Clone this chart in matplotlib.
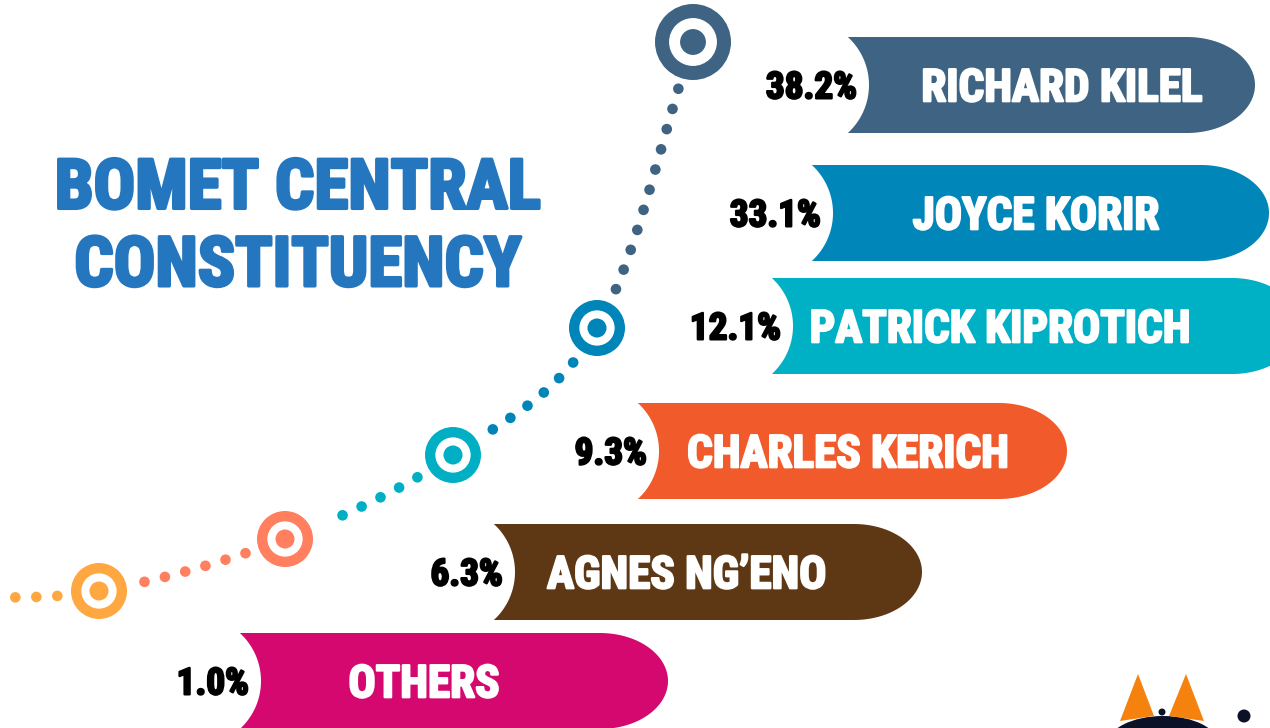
import numpy as np
import matplotlib
matplotlib.use("Agg")
import matplotlib.pyplot as plt
from matplotlib.patches import Polygon, Circle, Ellipse
from matplotlib import font_manager
import matplotlib.patheffects as pe

# ---------------- data ----------------
candidates = ["RICHARD KILEL", "JOYCE KORIR", "PATRICK KIPROTICH",
              "CHARLES KERICH", "AGNES NG\u2019ENO", "OTHERS"]
shares = [38.2, 33.1, 12.1, 9.3, 6.3, 1.0]
title_lines = ["BOMET CENTRAL", "CONSTITUENCY"]

# ---------------- styles / layout ----------------
bar_colors = ["#3E6383", "#0086B8", "#00B0C4", "#F15A2B", "#5E3815", "#D5086F"]
bar_left = [848, 812, 772, 638, 494, 240]      # top-left corner (px)
bar_right = [1255, 1269, 1300, 1067, 922, 668]  # right extreme (px)
bar_mid = [85, 213, 326, 451, 572, 681]         # vertical centre (px)
bar_h = 96
name_x = [1062, 1036, 1000, 848, 687, 424]
name_w = [283, 248, 368, 319, 289, 146]
pct_w = [94, 85, 90, 74, 73, 71]
title_color = "#2476BE"

# decorative path of targets
target_x = [99, 285, 453, 597, 693]
target_y = [591, 539, 455, 328, 42]
target_r = [28, 28, 28, 28, 38]
target_c = ["#FFA842", "#FF7F5E", "#00AFC4", "#0085B9", "#3E6383"]

names = {f.name for f in font_manager.fontManager.ttflist}
family = "DejaVu Sans"
for cand in ["Roboto Condensed", "Liberation Sans Narrow", "Open Sans Condensed", "Roboto", "Lato"]:
    if cand in names:
        family = cand
        break
fam = [family, "DejaVu Sans"]
WEIGHT = "black"

fig = plt.figure(figsize=(12.7, 7.28), dpi=100)
ax = fig.add_axes([0, 0, 1, 1])
ax.set_xlim(0, 1270)
ax.set_ylim(728, 0)
ax.axis("off")
fig.canvas.draw()
rend = fig.canvas.get_renderer()


def text_width(s, size):
    t = ax.text(0, 0, s, fontsize=size, family=fam, fontweight=WEIGHT)
    w = t.get_window_extent(renderer=rend).width
    t.remove()
    return w


def fit_size(strings, widths, ref=40):
    return float(np.median([ref * w / text_width(s, ref) for s, w in zip(strings, widths)]))


def bold_fx(color, lw):
    return [pe.withStroke(linewidth=lw, foreground=color)]


# ---------------- dotted curve ----------------
P = np.array([[-60, 598]] + list(zip(target_x, target_y)), dtype=float)
Pext = np.vstack([2 * P[0] - P[1], P, 2 * P[-1] - P[-2]])


def catmull(p0, p1, p2, p3, n=400):
    t = np.linspace(0, 1, n)[:, None]
    return 0.5 * ((2 * p1) + (-p0 + p2) * t + (2 * p0 - 5 * p1 + 4 * p2 - p3) * t ** 2
                  + (-p0 + 3 * p1 - 3 * p2 + p3) * t ** 3)


radii_ext = [0] + target_r
spacing = 21
for i in range(len(P) - 1):
    seg = catmull(Pext[i], Pext[i + 1], Pext[i + 2], Pext[i + 3])
    d = np.r_[0, np.cumsum(np.hypot(*np.diff(seg, axis=0).T))]
    L = d[-1]
    start = radii_ext[i + 1] + (11 if radii_ext[i + 1] > 30 else 14)
    s_vals = []
    s = start
    lower_gap = (radii_ext[i] + 14) if i > 0 else -50
    while L - s > lower_gap:
        s_vals.append(L - s)
        s += spacing
    col = target_c[i]
    for sv in s_vals:
        x = np.interp(sv, d, seg[:, 0])
        y = np.interp(sv, d, seg[:, 1])
        ax.add_patch(Circle((x, y), 5.3, color=col, lw=0, zorder=2))

for x, y, r, c in zip(target_x, target_y, target_r, target_c):
    ax.add_patch(Circle((x, y), r, color=c, lw=0, zorder=3))
    ax.add_patch(Circle((x, y), r * 0.63, color="white", lw=0, zorder=4))
    ax.add_patch(Circle((x, y), r * 0.34, color=c, lw=0, zorder=5))

# ---------------- bars ----------------
name_size = fit_size(candidates, name_w)
pct_labels = [f"{v:.1f}%" for v in shares]
pct_size = fit_size(pct_labels, pct_w)
cap_ratio = 0.72

rx = 68
R_notch = 65
bulge = 21
for i, (lab, val) in enumerate(zip(candidates, shares)):
    x0, xr, yc = bar_left[i], bar_right[i], bar_mid[i]
    yt, yb = yc - bar_h / 2, yc + bar_h / 2
    ry = bar_h / 2
    th = np.linspace(-np.pi / 2, np.pi / 2, 80)
    right_arc = np.c_[xr - rx + rx * np.cos(th), yc + ry * np.sin(th)]
    cx = x0 + bulge - R_notch
    ang = np.arcsin(ry / R_notch)
    th2 = np.linspace(ang, -ang, 80)
    left_arc = np.c_[cx + R_notch * np.cos(th2), yc + R_notch * np.sin(th2)]
    pts = np.vstack([[x0, yt], right_arc, left_arc])
    ax.add_patch(Polygon(pts, closed=True, color=bar_colors[i], lw=0, zorder=2))

    cap = cap_ratio * name_size * 100 / 72
    ax.text(name_x[i], yc + cap / 2, lab, color="white", fontsize=name_size,
            family=fam, fontweight=WEIGHT, ha="center", va="baseline", zorder=6,
            path_effects=bold_fx("white", 1.6))
    capp = cap_ratio * pct_size * 100 / 72
    ax.text(x0 + 9, yc + capp / 2, pct_labels[i], color="black", fontsize=pct_size,
            family=fam, fontweight=WEIGHT, ha="right", va="baseline", zorder=6,
            path_effects=bold_fx("black", 1.6))

# ---------------- title ----------------
title_size = fit_size(title_lines, [493, 439])
capt = cap_ratio * title_size * 100 / 72
for line, yc in zip(title_lines, [183.5, 261]):
    ax.text(298, yc + capt / 2, line, color=title_color, fontsize=title_size,
            family=fam, fontweight=WEIGHT, ha="center", va="baseline", zorder=6,
            path_effects=bold_fx(title_color, 2.4))

# ---------------- partial logo (bottom right) ----------------
dark = "#0B1126"
ax.add_patch(Ellipse((1163, 745), 112, 58, color=dark, lw=0, zorder=2))
ax.add_patch(Polygon([[1138, 674], [1120, 721], [1154, 716]], closed=True,
                     color="#F5820F", lw=0, zorder=3))
ax.add_patch(Polygon([[1186, 674], [1169, 716], [1204, 721]], closed=True,
                     color="#F5820F", lw=0, zorder=3))
ax.add_patch(Circle((1162, 712), 3.5, color=dark, lw=0, zorder=3))
ax.add_patch(Circle((1244, 716), 6.5, color=dark, lw=0, zorder=3))

fig.savefig("out.png", dpi=100, facecolor="white")
